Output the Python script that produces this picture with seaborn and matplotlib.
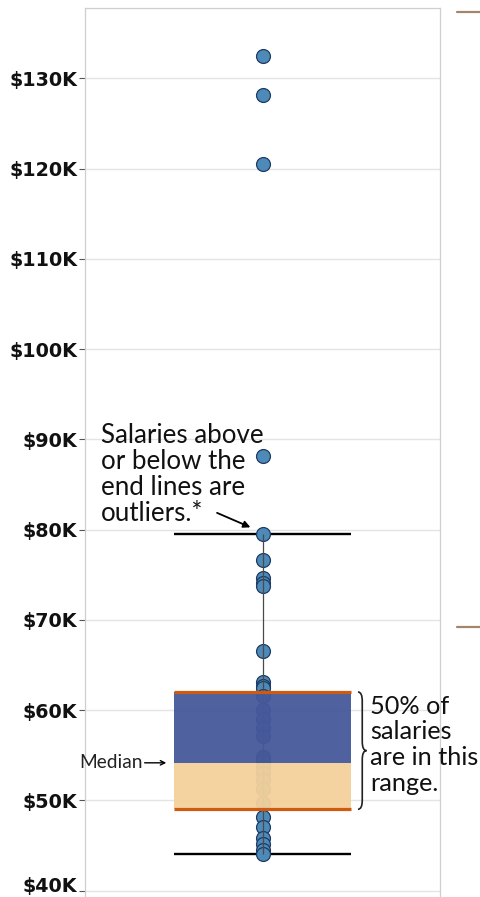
import matplotlib
matplotlib.use("Agg")
import matplotlib.pyplot as plt
from matplotlib.lines import Line2D
from matplotlib.path import Path
from matplotlib.patches import PathPatch
import matplotlib.transforms as mtransforms
import seaborn as sns

# Salaries, in thousands of dollars
salaries_k = [132.5, 128.2, 120.5, 88.1, 79.5, 76.6, 74.6, 74.1, 73.8, 66.5,
              63.1, 62.7, 62.4, 61.5, 60.0, 59.0, 58.0, 57.1, 54.8, 54.3,
              53.7, 53.0, 52.2, 51.3, 49.7, 48.1, 47.0, 45.8, 45.2, 44.5, 44.0]

# Box statistics (thousands of dollars)
q1_k = 49.0
median_k = 54.15
q3_k = 62.0

y_ticks_k = [40, 50, 60, 70, 80, 90, 100, 110, 120, 130]
y_tick_labels = [f"${v}K" for v in y_ticks_k]

outlier_note = "Salaries above\nor below the\nend lines are\noutliers.*"
range_note = "50% of\nsalaries\nare in this\nrange."
median_note = "Median"

# Tukey whiskers: furthest salaries within 1.5 IQR of the hinges
iqr = q3_k - q1_k
whisker_low = min(s for s in salaries_k if s >= q1_k - 1.5 * iqr)
whisker_high = max(s for s in salaries_k if s <= q3_k + 1.5 * iqr)

sns.set_theme(style="whitegrid")
plt.rcParams["font.family"] = ["Lato", "DejaVu Sans"]

W, H = 480, 897
fig = plt.figure(figsize=(W / 100, H / 100), dpi=100)
ax = fig.add_axes([85 / W, 0, (440 - 85) / W, (897 - 8) / H])

point_fill = "#4e8ab8"
point_edge = "#1d3b63"
box_upper = "#46589a"
box_lower = "#f4d19b"
hinge_color = "#cf5a10"

sns.stripplot(y=salaries_k, ax=ax, jitter=False, color=point_fill,
              edgecolor=point_edge, linewidth=0.9, size=10, zorder=2)

half_w = 0.25
# whisker end lines and stem
ax.hlines([whisker_low, whisker_high], -half_w, half_w, color="black",
          lw=1.7, zorder=1.8)
ax.vlines(0, whisker_low, whisker_high, color="#4a4a4a", lw=0.9, zorder=3)

# two-tone box split at the median
ax.bar(0, median_k - q1_k, bottom=q1_k, width=2 * half_w, color=box_lower,
       alpha=0.95, lw=0, zorder=4)
ax.bar(0, q3_k - median_k, bottom=median_k, width=2 * half_w, color=box_upper,
       alpha=0.95, lw=0, zorder=4)
ax.hlines([q1_k, q3_k], -half_w, half_w, color=hinge_color, lw=2.3, zorder=5)

ax.set_xlim(-0.5, 0.5)
ax.set_ylim(39.28, 137.8)
ax.set_yticks(y_ticks_k)
ax.set_yticklabels(y_tick_labels)
ax.set_xticks([])
ax.set_xlabel("")
ax.set_ylabel("")

ax.grid(axis="y", color="#e4e4e4", lw=1.0)
ax.grid(axis="x", visible=False)
for side in ["left", "top", "right"]:
    ax.spines[side].set_visible(True)
    ax.spines[side].set_color("#cfcfcf")
    ax.spines[side].set_linewidth(0.9)
ax.spines["bottom"].set_visible(False)

ax.tick_params(axis="y", left=True, length=4.2, width=0.8, color="#555555",
               pad=1.2)
labels = ax.get_yticklabels()
for lab in labels:
    lab.set_fontfamily("DejaVu Sans")
    lab.set_fontweight("bold")
    lab.set_fontsize(13.8)
    lab.set_color("#111111")
# lift the lowest label so it stays inside the figure
labels[0].set_transform(labels[0].get_transform()
                        + mtransforms.ScaledTranslation(0, 4 / 72,
                                                        fig.dpi_scale_trans))

blend = mtransforms.blended_transform_factory(ax.transAxes, ax.transData)

# outlier note and its arrow to the upper end line
ax.text(0.045, 91.8, outlier_note, transform=blend, ha="left", va="top",
        fontsize=18.6, color="#111111", linespacing=1.05, zorder=6)
ax.annotate("", xy=(0.466, 80.25), xycoords=("axes fraction", "data"),
            xytext=(0.372, 81.85), textcoords=("axes fraction", "data"),
            arrowprops=dict(arrowstyle="-|>", color="black", lw=1.3,
                            mutation_scale=10, shrinkA=0, shrinkB=0),
            zorder=6)

# median label
ax.text(0.162, median_k, median_note, transform=blend, ha="right",
        va="center", fontsize=13.8, color="#222222", zorder=6)
ax.annotate("", xy=(0.229, median_k), xycoords=("axes fraction", "data"),
            xytext=(0.168, median_k), textcoords=("axes fraction", "data"),
            arrowprops=dict(arrowstyle="->", color="black", lw=1.0,
                            mutation_scale=8, shrinkA=0, shrinkB=0),
            zorder=6)

# curly brace spanning the box
x0, x1 = 0.769, 0.793
xm = (x0 + x1) / 2
mid = (q1_k + q3_k) / 2
r = 1.0
verts = [(x0, q3_k), (xm, q3_k), (xm, q3_k - r),
         (xm, mid + r),
         (xm, mid), (x1, mid),
         (xm, mid), (xm, mid - r),
         (xm, q1_k + r),
         (xm, q1_k), (x0, q1_k)]
codes = [Path.MOVETO, Path.CURVE3, Path.CURVE3,
         Path.LINETO,
         Path.CURVE3, Path.CURVE3,
         Path.CURVE3, Path.CURVE3,
         Path.LINETO,
         Path.CURVE3, Path.CURVE3]
ax.add_patch(PathPatch(Path(verts, codes), transform=blend, fill=False,
                       edgecolor="#222222", lw=1.2, clip_on=False, zorder=6))
ax.text(0.803, 61.7, range_note, transform=blend, ha="left", va="top",
        fontsize=18.2, color="#111111", linespacing=1.14, zorder=6,
        clip_on=False)

# edge markers of the neighbouring panel
for yp in (12, 627):
    fig.add_artist(Line2D([457 / W, 1.0], [1 - yp / H, 1 - yp / H],
                          color="#a3866a", lw=1.6))

fig.savefig("out.png", dpi=100)
